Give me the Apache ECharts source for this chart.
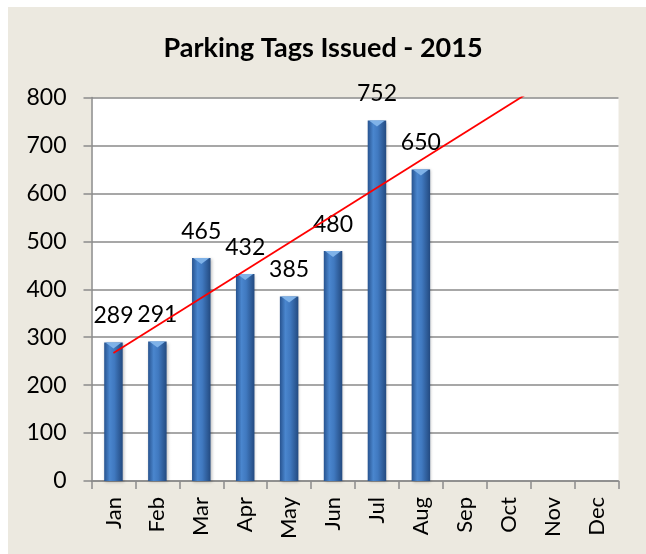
<!DOCTYPE html>
<html>
<head>
<meta charset="utf-8">
<script src="https://cdn.jsdelivr.net/npm/echarts@6/dist/echarts.min.js"></script>
<style>
html,body{margin:0;padding:0;background:#fff;}
#frame{position:absolute;left:8px;top:7px;width:638px;height:547px;background:#ECE9E0;}
#chart{position:absolute;left:0;top:0;width:646px;height:554px;}
</style>
</head>
<body>
<div id="frame"></div>
<div id="chart"></div>
<script>
const titleText = 'Parking Tags Issued - 2015';
const months = ['Jan','Feb','Mar','Apr','May','Jun','Jul','Aug','Sep','Oct','Nov','Dec'];
const tags = [289, 291, 465, 432, 385, 480, 752, 650, null, null, null, null];
const trendEnds = [['Jan', 267], ['Dec', 899]];
const yTicks = [0, 100, 200, 300, 400, 500, 600, 700, 800];

const chart = echarts.init(document.getElementById('chart'), null, {renderer: 'canvas'});
const font = 'Lato, "Open Sans", sans-serif';
chart.setOption({
  backgroundColor: 'transparent',
  animation: false,
  title: {
    text: titleText, left: 'center', top: 30,
    textStyle: {fontFamily: font, fontWeight: 'bold', fontSize: 27, color: '#000'}
  },
  grid: {left: 91.5, right: 27.5, top: 97.5, bottom: 73, show: true, backgroundColor: '#fff', borderWidth: 0},
  xAxis: {
    type: 'category', data: months,
    axisLine: {lineStyle: {color: '#8a8a8a', width: 1.5}},
    axisTick: {show: true, length: 8, lineStyle: {color: '#8a8a8a', width: 1.5}},
    axisLabel: {rotate: 90, margin: 16, fontFamily: font, fontSize: 22, color: '#000'}
  },
  yAxis: {
    type: 'value', min: yTicks[0], max: yTicks[yTicks.length - 1], interval: 100,
    axisLine: {show: true, lineStyle: {color: '#8a8a8a', width: 1.5}},
    axisTick: {show: true, length: 8, lineStyle: {color: '#8a8a8a', width: 1.5}},
    splitLine: {lineStyle: {color: '#8a8a8a', width: 1.5}},
    axisLabel: {margin: 25, fontFamily: font, fontSize: 23, color: '#000'}
  },
  series: [
    {
      type: 'bar', data: tags, barWidth: 18.5, barGap: '-100%',
      itemStyle: {
        color: new echarts.graphic.LinearGradient(0, 0, 1, 0, [
          {offset: 0, color: '#27538F'},
          {offset: 0.3, color: '#4A86CE'},
          {offset: 0.55, color: '#4079C0'},
          {offset: 1, color: '#234A80'}
        ]),
        shadowColor: 'rgba(0,0,0,0.25)', shadowBlur: 3, shadowOffsetX: 1, shadowOffsetY: 1
      },
      label: {show: true, position: 'top', distance: 15, fontFamily: font, fontSize: 23, color: '#000'}
    },
    {
      type: 'pictorialBar', data: tags, symbol: 'triangle', symbolRotate: 180,
      symbolSize: [16, 6], symbolPosition: 'end', symbolOffset: [0, 0], z: 3,
      itemStyle: {color: '#7FB2E8'}, silent: true
    },
    {
      type: 'line', data: trendEnds, symbol: 'none', clip: true, z: 5,
      lineStyle: {color: '#FF0000', width: 1.8}
    }
  ]
});
</script>
</body>
</html>
